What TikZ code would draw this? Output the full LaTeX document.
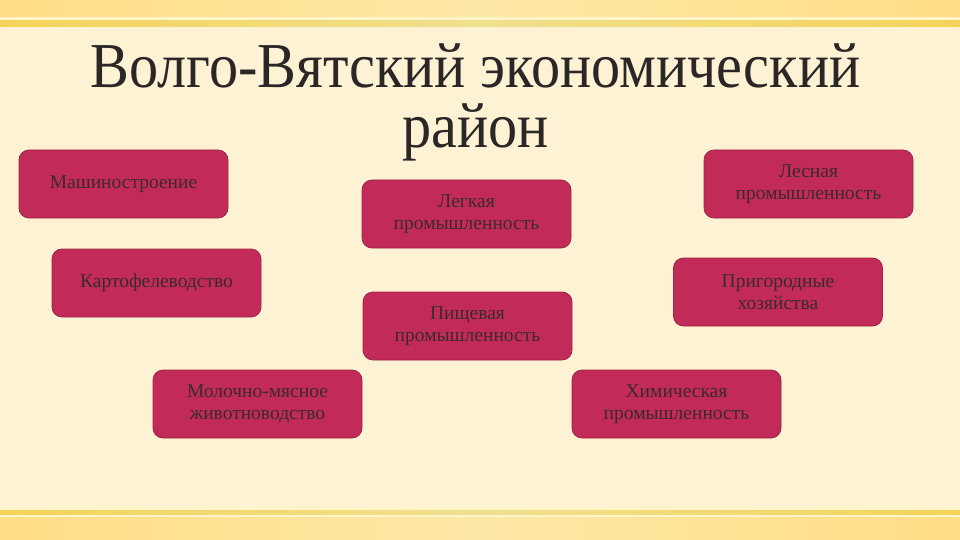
\documentclass[tikz,border=0pt]{standalone}
\usepackage{fontspec}
\setmainfont{Liberation Serif}
\newfontfamily\titlefont{Liberation Serif}[FakeStretch=0.91]
\begin{document}
\begin{tikzpicture}[x=1pt,y=-1pt,
  box/.style={draw=boxedge,line width=0.8pt,fill=boxfill,rounded corners=10pt,
    minimum width=209pt,minimum height=68pt,inner sep=2pt,align=center,
    text=boxtext,font=\fontsize{19.5}{22}\selectfont},
  ttl/.style={align=center,font=\titlefont\fontsize{64}{60}\selectfont}]
\definecolor{bg}{HTML}{FDF3D4}
\definecolor{bandedge}{HTML}{FFDD85}
\definecolor{bandmid}{HTML}{FEE8A6}
\definecolor{stripeedge}{HTML}{F5D35A}
\definecolor{stripemid}{HTML}{EFE08E}
\definecolor{lightline}{HTML}{FFF5C8}
\definecolor{boxfill}{HTML}{C22B57}
\definecolor{boxedge}{HTML}{9E2449}
\definecolor{boxtext}{HTML}{3A2A30}
\definecolor{ttltext}{HTML}{2B2726}
\useasboundingbox (0,0) rectangle (960,540);
\fill[bg] (0,0) rectangle (960,540);
% top band
\shade[left color=bandedge,right color=bandedge,middle color=bandmid] (0,0) rectangle (960,17);
\fill[lightline] (0,17) rectangle (960,21);
\shade[left color=stripeedge,right color=stripeedge,middle color=stripemid] (0,21) rectangle (960,27);
% bottom band
\fill[lightline] (0,507) rectangle (960,510);
\shade[left color=stripeedge,right color=stripeedge,middle color=stripemid] (0,510) rectangle (960,515);
\fill[lightline] (0,515) rectangle (960,517);
\shade[left color=bandedge,right color=bandedge,middle color=bandmid] (0,517) rectangle (960,540);
% title
\node[ttl,text=ttltext] (title) at (475.5,102) {Волго-Вятский экономический\\район};
% boxes
\node[box] (mash) at (123.5,184) {Машиностроение};
\node[box] (kart) at (156.5,283) {Картофелеводство};
\node[box] (mol) at (257.5,404) {Молочно-мясное\\животноводство};
\node[box] (legk) at (466.5,214) {Легкая\\промышленность};
\node[box] (pish) at (467.5,326) {Пищевая\\промышленность};
\node[box] (les) at (808.5,184) {Лесная\\промышленность};
\node[box] (prig) at (778,292) {Пригородные\\хозяйства};
\node[box] (him) at (676.5,404) {Химическая\\промышленность};
\end{tikzpicture}
\end{document}
